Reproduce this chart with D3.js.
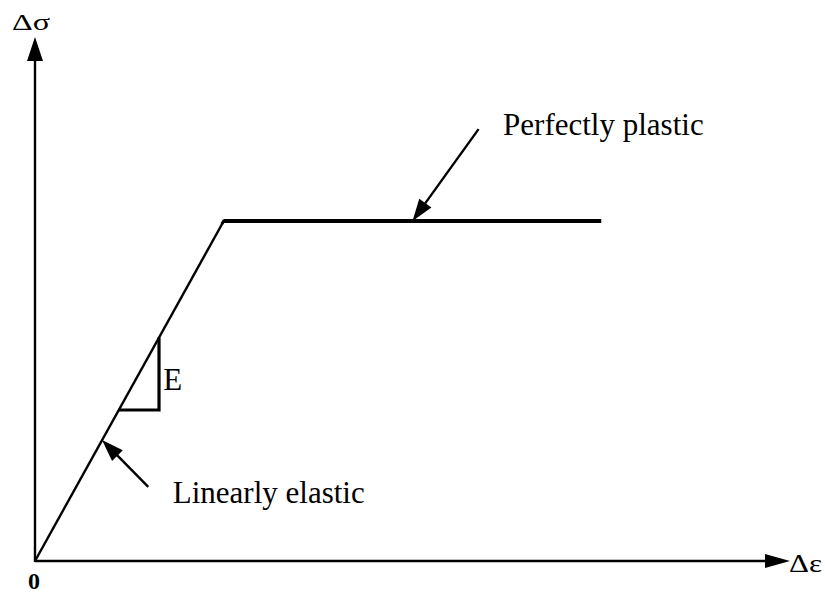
<!DOCTYPE html>
<html>
<head>
<meta charset="utf-8">
<script src="https://cdn.jsdelivr.net/npm/d3@7"></script>
<style>
  html, body { margin: 0; padding: 0; background: #fff; }
  svg { display: block; }
  text { font-family: "Liberation Serif", "Times New Roman", serif; fill: #000; }
</style>
</head>
<body>
<script>
// Elastic–perfectly plastic stress–strain idealisation (strain units, stress units)
const strain = [0, 1, 3];
const stress = [0, 1, 1];

// slope triangle on the elastic branch
const slopeStrain = [0.444, 0.657];

// annotation arrows: [tailStrain, tailStress, tipStrain, tipStress]
const plasticArrow = [2.35, 1.27, 2.0, 1.0];
const elasticArrow = [0.6, 0.218, 0.355, 0.356];

const labels = ["Perfectly plastic", "Linearly elastic", "E"];
const labelStrain = [2.48, 0.73, 0.68];
const labelStress = [1.253, 0.171, 0.503];

const W = 825, H = 596;
const x = d3.scaleLinear().domain([0, 4]).range([35, 790]);
const y = d3.scaleLinear().domain([0, 1.541]).range([561, 37]);

const svg = d3.select("body").append("svg").attr("width", W).attr("height", H);

// arrowhead polygon pointing from (x0,y0) to tip (x1,y1)
function head(x0, y0, x1, y1, len, half) {
  const a = Math.atan2(y1 - y0, x1 - x0);
  const bx = x1 - len * Math.cos(a), by = y1 - len * Math.sin(a);
  const nx = -Math.sin(a), ny = Math.cos(a);
  svg.append("path")
    .attr("d", `M${x1},${y1}L${bx + nx * half},${by + ny * half}L${bx - nx * half},${by - ny * half}Z`)
    .attr("fill", "#000");
}

// axes
const x0 = x(0), y0 = y(0);
const xEnd = x.range()[1], yEnd = y.range()[1];
svg.append("line").attr("x1", x0).attr("y1", y0).attr("x2", xEnd - 18).attr("y2", y0)
  .attr("stroke", "#000").attr("stroke-width", 2.4);
svg.append("line").attr("x1", x0).attr("y1", y0 + 1).attr("x2", x0).attr("y2", yEnd + 18)
  .attr("stroke", "#000").attr("stroke-width", 2.4);
head(x0, y0, xEnd, y0, 25, 7);
head(x0, y0, x0, yEnd, 24, 8);

// constitutive curve: elastic branch, then plastic plateau
const pts = strain.map((s, i) => [x(s), y(stress[i])]);
svg.append("path")
  .attr("d", d3.line()([pts[0], pts[1]]))
  .attr("fill", "none").attr("stroke", "#000").attr("stroke-width", 2.4);
svg.append("path")
  .attr("d", d3.line()([pts[1], pts[2]]))
  .attr("fill", "none").attr("stroke", "#000").attr("stroke-width", 4)
  .attr("stroke-linecap", "butt");
// join at the yield point
svg.append("path")
  .attr("d", d3.line()([[pts[1][0] - 2, pts[1][1] + 3], pts[1], [pts[1][0] + 4, pts[1][1]]]))
  .attr("fill", "none").attr("stroke", "#000").attr("stroke-width", 3).attr("stroke-linejoin", "miter");

// slope triangle
const [sa, sb] = slopeStrain;
svg.append("path")
  .attr("d", d3.line()([[x(sa), y(sa)], [x(sb), y(sa)], [x(sb), y(sb)]]))
  .attr("fill", "none").attr("stroke", "#000").attr("stroke-width", 3.2)
  .attr("stroke-linejoin", "miter");

// annotation arrows
[plasticArrow, elasticArrow].forEach(a => {
  const tx = x(a[0]), ty = y(a[1]), hx = x(a[2]), hy = y(a[3]);
  const ang = Math.atan2(hy - ty, hx - tx);
  svg.append("line").attr("x1", tx).attr("y1", ty)
    .attr("x2", hx - 14 * Math.cos(ang)).attr("y2", hy - 14 * Math.sin(ang))
    .attr("stroke", "#000").attr("stroke-width", 2.4);
  head(tx, ty, hx, hy, 22, 7.5);
});

// labels
labels.forEach((t, i) => {
  svg.append("text").attr("x", x(labelStrain[i])).attr("y", y(labelStress[i]))
    .attr("font-size", 31).text(t);
});

// axis titles
svg.append("text").attr("x", 12).attr("y", 30).attr("font-size", 24)
  .attr("textLength", 38).attr("lengthAdjust", "spacingAndGlyphs").text("Δσ");
svg.append("text").attr("x", 789).attr("y", 572).attr("font-size", 25)
  .attr("textLength", 33).attr("lengthAdjust", "spacingAndGlyphs").text("Δε");
svg.append("text").attr("x", x0 - 7).attr("y", 589).attr("font-size", 24)
  .attr("font-weight", "bold").text("0");
</script>
</body>
</html>
